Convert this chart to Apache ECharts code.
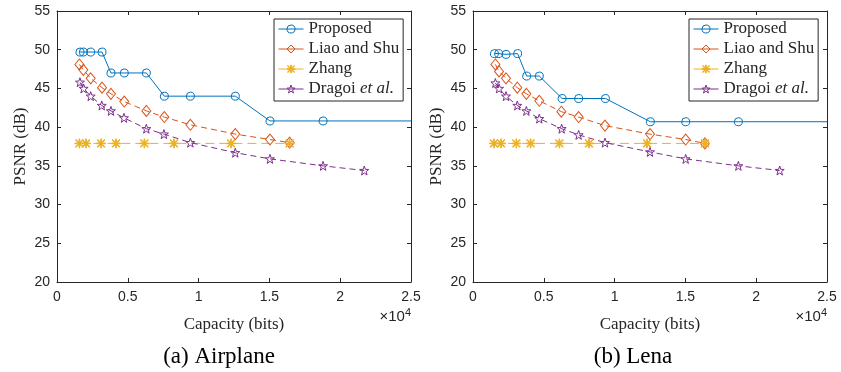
<!DOCTYPE html>
<html><head><meta charset="utf-8">
<script src="https://cdn.jsdelivr.net/npm/echarts@6/dist/echarts.min.js"></script>
<style>html,body{margin:0;padding:0;background:#fff}#c{width:841px;height:372px}</style>
</head><body><div id="c"></div>
<script>
// ---- data ----
const seriesNames = ['Proposed', 'Liao and Shu', 'Zhang', 'Dragoi et al.'];
const xTicks = [0, 5000, 10000, 15000, 20000, 25000];
const yTicks = [20, 25, 30, 35, 40, 45, 50, 55];
const captions = ['(a) Airplane', '(b) Lena'];

const airProposedX = [1620, 1860, 2380, 3180, 3810, 4750, 6310, 7580, 9420, 12590, 15040, 18790, 25000];
const airProposedY = [49.7, 49.7, 49.7, 49.7, 47.0, 47.0, 47.0, 44.0, 44.0, 44.0, 40.8, 40.8, 40.8];
const airLiaoX = [1580, 1860, 2380, 3180, 3810, 4750, 6310, 7580, 9420, 12590, 15040, 16430];
const airLiaoY = [48.1, 47.4, 46.3, 45.1, 44.3, 43.3, 42.1, 41.3, 40.3, 39.1, 38.4, 38.0];
const airZhangX = [1580, 2050, 3110, 4170, 6170, 8260, 12290, 16430];
const airZhangY = [37.9, 37.9, 37.9, 37.9, 37.9, 37.9, 37.9, 37.9];
const airDragoiX = [1620, 1880, 2380, 3160, 3810, 4730, 6310, 7550, 9420, 12590, 15040, 18790, 21700];
const airDragoiY = [45.8, 45.0, 44.0, 42.8, 42.1, 41.2, 39.8, 39.1, 38.0, 36.7, 35.9, 35.0, 34.4];

const lenaProposedX = [1510, 1810, 2330, 3150, 3790, 4680, 6290, 7460, 9350, 12520, 15020, 18740, 25000];
const lenaProposedY = [49.5, 49.5, 49.4, 49.5, 46.6, 46.6, 43.7, 43.7, 43.7, 40.7, 40.7, 40.7, 40.7];
const lenaLiaoX = [1580, 1840, 2330, 3130, 3770, 4680, 6240, 7460, 9320, 12500, 15020, 16380];
const lenaLiaoY = [48.1, 47.2, 46.3, 45.1, 44.3, 43.4, 42.0, 41.3, 40.2, 39.1, 38.4, 37.9];
const lenaZhangX = [1480, 1980, 3060, 4070, 6100, 8190, 12290, 16380];
const lenaZhangY = [37.9, 37.9, 37.9, 37.9, 37.9, 37.9, 37.9, 37.9];
const lenaDragoiX = [1580, 1840, 2330, 3130, 3770, 4680, 6260, 7460, 9320, 12500, 15020, 18740, 21660];
const lenaDragoiY = [45.7, 45.0, 44.0, 42.8, 42.1, 41.1, 39.8, 39.0, 38.0, 36.8, 35.9, 35.0, 34.4];

// ---- styling ----
const colors = ['#0072BD', '#D95319', '#EDB120', '#7E2F8E'];
const TXT = '#262626';
const SERIF = '"Liberation Serif","DejaVu Serif",serif';
const SANS = '"Liberation Sans",Arial,sans-serif';
const XMAX = 25000;

const circlePath = 'path://M50 0 A50 50 0 1 1 49.99 0 Z';
const diamondPath = 'path://M50 0 L100 50 L50 100 L0 50 Z';
const asteriskPath = 'path://M46 0 H54 V100 H46 Z M0 46 H100 V54 H0 Z M12 6 L94 88 L88 94 L6 12 Z M88 6 L94 12 L12 94 L6 88 Z';
const starPath = 'path://M50 0 L61.76 33.82 L97.55 34.55 L69.02 56.18 L79.39 90.45 L50 70 L20.61 90.45 L30.98 56.18 L2.45 34.55 L38.24 33.82 Z';

const symDefs = [
  {symbol: circlePath, size: [8, 8], fill: 'rgba(255,255,255,0)', dash: 'solid'},
  {symbol: diamondPath, size: [9, 11], fill: 'rgba(255,255,255,0)', dash: [6, 4]},
  {symbol: asteriskPath, size: [9, 9], fill: colors[2], dash: [9, 5]},
  {symbol: starPath, size: [9, 9], fill: 'rgba(255,255,255,0)', dash: [6, 4]}
];

const plots = [
  {xs: [airProposedX, airLiaoX, airZhangX, airDragoiX], ys: [airProposedY, airLiaoY, airZhangY, airDragoiY]},
  {xs: [lenaProposedX, lenaLiaoX, lenaZhangX, lenaDragoiX], ys: [lenaProposedY, lenaLiaoY, lenaZhangY, lenaDragoiY]}
];

const gridLefts = [57, 473];
const gridW = 354;
const grids = gridLefts.map(l => ({left: l, top: 11, width: gridW, height: 271, show: false}));

const xAxes = [], yAxes = [], series = [], legends = [];
plots.forEach((p, gi) => {
  const baseX = {
    type: 'value', gridIndex: gi, min: xTicks[0], max: xTicks[xTicks.length - 1],
    interval: xTicks[1] - xTicks[0], splitLine: {show: false},
    axisLine: {onZero: false, lineStyle: {color: TXT, width: 1}},
    axisTick: {inside: true, length: 4, lineStyle: {color: TXT}}
  };
  xAxes.push(Object.assign({}, baseX, {
    position: 'bottom',
    axisLabel: {color: TXT, fontFamily: SANS, fontSize: 14, margin: 8, formatter: v => String(v / 10000)},
    name: 'Capacity (bits)', nameLocation: 'middle', nameGap: 34,
    nameTextStyle: {color: TXT, fontFamily: SERIF, fontSize: 17}
  }));
  xAxes.push(Object.assign({}, baseX, {position: 'top', axisLabel: {show: false}}));
  const baseY = {
    type: 'value', gridIndex: gi, min: yTicks[0], max: yTicks[yTicks.length - 1],
    interval: yTicks[1] - yTicks[0], splitLine: {show: false},
    axisLine: {onZero: false, lineStyle: {color: TXT, width: 1}},
    axisTick: {inside: true, length: 4, lineStyle: {color: TXT}}
  };
  yAxes.push(Object.assign({}, baseY, {
    position: 'left',
    axisLabel: {color: TXT, fontFamily: SANS, fontSize: 14, margin: 7},
    name: 'PSNR (dB)', nameLocation: 'middle', nameGap: 28,
    nameTextStyle: {color: TXT, fontFamily: SERIF, fontSize: 17}
  }));
  yAxes.push(Object.assign({}, baseY, {position: 'right', axisLabel: {show: false}}));

  seriesNames.forEach((name, si) => {
    const d = symDefs[si];
    const data = p.xs[si].map((x, k) => {
      const item = {value: [x, p.ys[si][k]]};
      if (x >= XMAX) item.symbol = 'none';
      return item;
    });
    series.push({
      type: 'line', name: name, xAxisIndex: gi * 2, yAxisIndex: gi * 2,
      data: data, symbol: d.symbol, symbolSize: d.size, symbolKeepAspect: false,
      showAllSymbol: true, animation: false, clip: true,
      lineStyle: {color: colors[si], width: 1, type: d.dash},
      itemStyle: {color: d.fill, borderColor: colors[si], borderWidth: 1},
      emphasis: {disabled: true}
    });
  });

  legends.push({
    show: true, orient: 'vertical', left: gi === 0 ? 274 : 689, top: 19,
    data: seriesNames.map((n, si) => ({name: n, itemStyle: {color: symDefs[si].fill, borderColor: colors[si], borderWidth: 1},
      lineStyle: {color: colors[si], width: 1, type: 'solid'}})),
    backgroundColor: '#fff', borderColor: TXT, borderWidth: 1, borderRadius: 0,
    padding: [1, 4, 3, 4], itemGap: 2, itemWidth: 25, itemHeight: 10,
    selectedMode: false,
    textStyle: {color: TXT, fontFamily: SERIF, fontSize: 17, lineHeight: 18,
      rich: {n: {fontFamily: SERIF, fontSize: 17, color: TXT}, i: {fontFamily: SERIF, fontSize: 17, fontStyle: 'italic', color: TXT}}},
    formatter: n => n === 'Dragoi et al.' ? '{n|Dragoi }{i|et al.}' : n
  });
});

const graphics = [];
gridLefts.forEach((l, gi) => {
  graphics.push({
    type: 'text', right: 841 - (l + gridW), top: 307,
    style: {text: '×10{s|4}', fill: TXT, font: '15px ' + SANS,
      rich: {s: {fontSize: 11, fontFamily: SANS, fill: TXT, verticalAlign: 'top', padding: [0, 0, 8, 0]}}}
  });
  graphics.push({
    type: 'text', x: [219, 633][gi], y: 357,
    style: {text: captions[gi], fill: '#000', font: '23px ' + SERIF, textAlign: 'center', textVerticalAlign: 'middle'}
  });
});

const chart = echarts.init(document.getElementById('c'), null, {renderer: 'canvas'});
chart.setOption({
  backgroundColor: '#fff', animation: false,
  grid: grids, xAxis: xAxes, yAxis: yAxes, series: series, legend: legends, graphic: graphics
});
</script></body></html>
